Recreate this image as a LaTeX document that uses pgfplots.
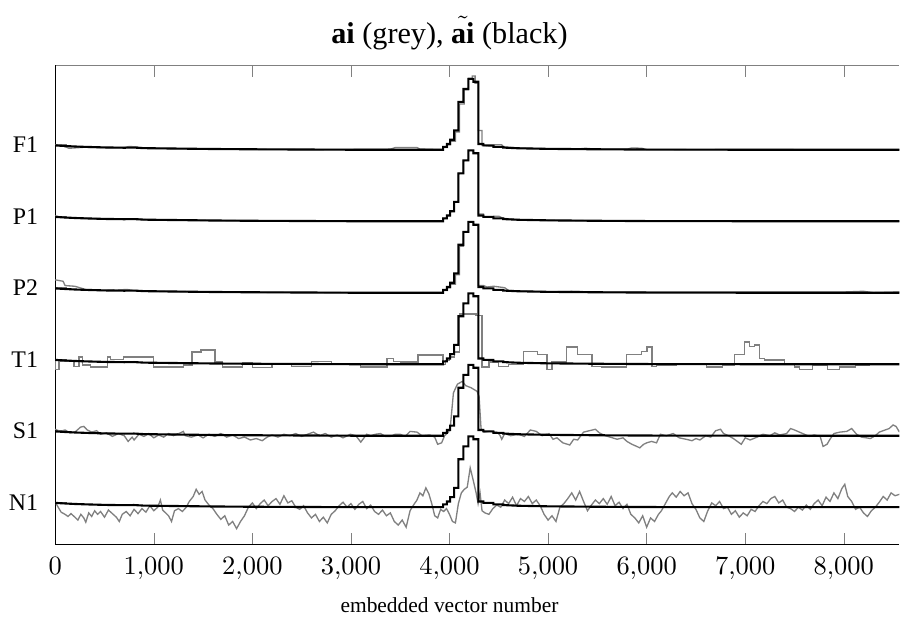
\documentclass[border=0pt]{standalone}
\usepackage{fontspec}
\setmainfont{Liberation Serif}
\usepackage{pgfplots}
\usepackage{pgfplotstable}
\pgfplotsset{compat=1.18}

% black (smoothed) reference curve, relative to each baseline
\pgfplotstableread{
x y
0 0.06
100 0.052
200 0.045
300 0.04
500 0.032
700 0.028
800 0.03
900 0.022
1000 0.02
1300 0.015
1600 0.01
2000 0.006
2500 0.003
3000 0.0
3500 0.0
3935 0.0
3935 0.04
3973 0.04
3973 0.08
4006 0.08
4006 0.14
4047 0.14
4047 0.27
4090 0.27
4090 0.67
4141 0.67
4141 0.85
4192 0.85
4192 0.99
4242 0.99
4242 0.95
4293 0.95
4293 0.08
4344 0.08
4344 0.06
4445 0.06
4445 0.04
4545 0.04
4545 0.03
4700 0.02
5000 0.012
5500 0.006
6000 0.002
7000 0.0
8000 0.0
8565 0.0
}\blackbase

\pgfplotstableread{
x y
0 0.07
60 0.065
140 0.02
300 0.035
500 0.028
700 0.03
750 0.045
820 0.04
900 0.022
1200 0.015
1500 0.01
2000 0.006
2500 0.0
3000 0.004
3400 0.008
3450 0.03
3670 0.03
3700 0.01
3935 0.0
3935 0.03
3980 0.03
3980 0.07
4010 0.07
4010 0.12
4060 0.12
4060 0.25
4100 0.25
4100 0.64
4150 0.64
4150 0.84
4192 0.84
4192 1.0
4230 1.0
4230 1.03
4260 1.03
4260 0.93
4293 0.93
4293 0.27
4330 0.27
4330 0.06
4400 0.05
4450 0.05
4460 0.07
4530 0.07
4545 0.04
4700 0.025
5000 0.012
5300 0.01
5380 0.02
5450 0.012
5800 0.008
5850 0.025
5950 0.02
6000 0.004
6500 0.0
7000 0.002
7800 0.0
8565 0.0
}\greyFone

\pgfplotstableread{
x y
0 0.075
50 0.06
100 0.05
200 0.045
300 0.04
500 0.033
700 0.028
800 0.032
900 0.022
1000 0.02
1300 0.015
1600 0.01
2000 0.006
2500 0.003
3000 0.0
3935 0.0
3935 0.04
3973 0.04
3973 0.08
4006 0.08
4006 0.14
4047 0.14
4047 0.27
4090 0.27
4090 0.67
4141 0.67
4141 0.85
4192 0.85
4192 0.99
4242 0.99
4242 0.95
4293 0.95
4293 0.1
4344 0.1
4344 0.06
4440 0.06
4450 0.07
4500 0.07
4545 0.04
4700 0.02
5000 0.012
5500 0.006
6000 0.002
7000 0.0
8565 0.0
}\greyPone

\pgfplotstableread{
x y
0 0.18
80 0.16
100 0.1
200 0.09
320 0.04
500 0.03
730 0.045
800 0.03
1000 0.02
1300 0.015
1600 0.01
2000 0.006
2500 0.003
3000 0.0
3935 0.0
3935 0.03
3980 0.03
3980 0.07
4010 0.07
4010 0.12
4060 0.12
4060 0.25
4100 0.25
4100 0.65
4141 0.65
4141 0.85
4192 0.85
4192 0.99
4242 0.99
4242 0.95
4293 0.95
4293 0.1
4344 0.1
4380 0.08
4450 0.09
4560 0.07
4600 0.03
5000 0.012
5300 0.02
5400 0.01
8000 0.01
8200 0.02
8300 0.0
8565 0.01
}\greyPtwo

\pgfplotstableread{
x y
0 0.07
5 -0.07
38 0.04
190 -0.03
240 0.1
274 -0.01
359 -0.04
527 0.1
561 0.07
696 0.1
1000 -0.04
1304 -0.01
1389 0.17
1480 0.2
1620 0.03
1700 -0.04
1900 0.02
2000 -0.05
2200 0.01
2400 -0.03
2600 0.04
2800 0.0
3095 -0.04
3367 0.08
3435 0.04
3500 0.03
3682 0.13
3935 0.0
3960 0.05
4000 0.1
4050 0.17
4100 0.7
4270 0.68
4330 -0.04
4400 0.03
4500 -0.03
4600 0.0
4750 0.18
4890 0.14
4990 -0.07
5040 0.03
5190 0.24
5300 0.14
5445 -0.03
5546 -0.04
5799 0.14
5951 0.18
6002 0.24
6053 -0.03
6103 -0.01
6306 0.01
6610 -0.04
6772 -0.01
6893 0.14
6995 0.31
7046 0.25
7097 0.27
7147 0.08
7198 0.06
7400 0.01
7502 -0.04
7552 -0.07
7684 -0.01
7836 -0.07
7957 -0.04
8119 -0.01
8261 0.01
8565 0.01
}\greyTone

\pgfplotstableread{
x y
0 0.09
50 0.06
100 0.08
150 0.04
200 0.05
257 0.12
290 0.13
325 0.08
370 0.05
420 0.07
460 0.02
520 0.04
580 -0.01
640 0.03
700 0.0
740 -0.08
780 -0.02
800 -0.06
850 0.02
900 -0.01
950 0.03
1000 -0.03
1050 0.01
1100 -0.02
1150 0.03
1200 0.0
1270 0.04
1300 0.06
1320 0.0
1380 -0.02
1450 0.01
1500 -0.03
1560 0.02
1620 -0.01
1680 0.03
1740 -0.02
1800 0.01
1860 -0.04
1920 -0.02
1980 -0.06
2040 -0.04
2100 -0.07
2150 -0.02
2200 0.01
2260 -0.02
2320 0.02
2380 0.0
2440 0.03
2500 -0.01
2560 0.02
2620 0.05
2680 0.0
2740 0.03
2800 -0.02
2860 0.01
2920 -0.03
2994 0.02
3050 0.0
3100 -0.09
3160 0.02
3200 0.0
3250 0.02
3300 0.03
3350 -0.01
3400 -0.01
3450 0.02
3500 0.02
3550 -0.01
3600 0.06
3670 0.05
3720 0.0
3800 0.01
3850 -0.02
3880 -0.12
3920 -0.1
3950 0.0
3990 0.05
4010 0.15
4040 0.6
4080 0.72
4130 0.76
4165 0.7
4220 0.67
4280 0.62
4300 0.55
4320 0.1
4350 0.05
4410 0.06
4480 0.05
4510 0.01
4530 -0.05
4560 0.03
4620 0.0
4700 0.02
4760 -0.01
4820 0.08
4880 0.06
4940 0.0
5010 0.03
5050 -0.05
5090 -0.03
5150 -0.1
5220 -0.13
5260 -0.05
5300 -0.06
5360 0.05
5420 0.07
5480 0.09
5520 0.04
5580 0.0
5630 -0.02
5700 -0.05
5760 -0.03
5800 -0.08
5850 -0.12
5900 -0.15
5930 -0.17
5970 -0.12
6000 -0.1
6050 -0.08
6100 -0.1
6140 0.02
6200 0.0
6270 0.03
6330 -0.03
6400 -0.05
6460 -0.07
6500 -0.04
6540 -0.06
6600 0.0
6650 -0.02
6700 0.07
6750 0.09
6780 0.03
6830 0.0
6880 -0.04
6920 -0.08
6960 -0.12
7000 -0.03
7050 -0.06
7120 -0.02
7180 0.02
7250 0.0
7300 0.04
7350 0.01
7420 0.03
7460 0.1
7500 0.08
7550 0.05
7600 0.02
7650 -0.01
7700 0.01
7760 -0.01
7790 -0.15
7830 -0.12
7860 -0.05
7900 0.03
7960 0.05
8030 0.06
8080 0.1
8130 0.02
8180 -0.02
8230 -0.03
8270 -0.04
8320 0.0
8360 0.05
8420 0.08
8460 0.1
8500 0.15
8530 0.13
8565 0.05
}\greySone

\pgfplotstableread{
x y
0 0.07
30 0.0
60 -0.07
100 -0.1
130 -0.13
160 -0.09
200 -0.14
230 -0.18
260 -0.1
290 -0.15
310 -0.21
340 -0.08
370 -0.13
400 -0.05
430 -0.1
460 -0.06
500 -0.14
540 -0.04
580 -0.09
620 -0.14
650 -0.2
680 -0.1
720 -0.06
760 -0.12
800 -0.03
840 -0.09
880 -0.02
920 -0.07
960 0.02
1000 -0.05
1040 0.0
1067 0.1
1090 -0.04
1120 -0.08
1150 -0.12
1180 -0.2
1210 -0.05
1250 -0.02
1290 -0.06
1330 0.0
1360 0.08
1400 0.15
1430 0.25
1460 0.18
1490 0.22
1520 0.1
1560 0.03
1600 -0.02
1640 -0.1
1680 -0.17
1720 -0.12
1760 -0.25
1800 -0.2
1840 -0.3
1880 -0.2
1920 -0.12
1960 0.0
2000 0.06
2040 -0.02
2080 0.05
2120 0.1
2160 0.02
2200 0.08
2240 0.12
2280 0.04
2320 0.16
2360 0.06
2400 0.09
2440 0.0
2480 -0.03
2520 0.02
2560 -0.08
2600 -0.15
2640 -0.1
2680 -0.2
2720 -0.14
2760 -0.22
2800 -0.1
2840 -0.05
2880 0.02
2920 0.07
2960 0.0
3000 0.05
3040 -0.03
3080 0.04
3120 0.08
3160 -0.02
3200 0.03
3240 -0.06
3280 -0.1
3320 -0.04
3360 -0.12
3400 -0.08
3440 -0.2
3480 -0.25
3520 -0.18
3560 -0.28
3600 -0.05
3630 0.02
3670 0.1
3700 0.2
3730 0.16
3760 0.27
3790 0.19
3820 0.05
3850 -0.12
3880 -0.15
3910 -0.03
3940 -0.06
3970 -0.02
4000 -0.1
4030 -0.2
4060 -0.22
4090 0.05
4120 0.2
4150 0.25
4180 0.28
4210 0.55
4240 0.38
4270 0.2
4290 0.05
4310 0.2
4330 -0.05
4360 -0.08
4400 -0.1
4440 -0.02
4480 0.03
4520 0.0
4560 0.1
4600 0.05
4640 0.14
4680 0.02
4720 0.12
4760 0.08
4800 0.15
4840 0.05
4880 0.1
4920 0.02
4960 -0.1
5000 -0.18
5040 -0.12
5080 -0.2
5120 0.0
5160 0.05
5200 0.12
5240 0.2
5280 0.1
5320 0.22
5360 0.08
5400 -0.05
5440 0.03
5480 0.1
5520 0.05
5560 0.12
5600 0.04
5640 0.15
5680 0.02
5720 0.07
5760 -0.02
5800 0.04
5840 -0.1
5880 -0.15
5920 -0.22
5960 -0.12
6000 -0.28
6040 -0.15
6080 -0.2
6120 -0.1
6150 -0.05
6190 0.05
6230 0.15
6260 0.2
6300 0.14
6340 0.22
6380 0.16
6420 0.2
6460 0.05
6500 -0.03
6540 -0.15
6580 -0.2
6620 -0.05
6660 0.06
6700 0.02
6740 0.08
6780 -0.02
6820 0.0
6860 -0.1
6900 -0.05
6940 -0.14
6980 -0.08
7020 -0.12
7060 -0.03
7100 -0.06
7140 0.02
7180 0.08
7220 0.05
7260 0.12
7300 0.15
7340 0.06
7380 0.1
7420 0.0
7460 -0.02
7500 -0.06
7540 0.0
7580 -0.04
7620 0.03
7660 -0.03
7700 0.05
7740 0.1
7780 0.02
7820 0.14
7860 0.08
7900 0.2
7940 0.12
7980 0.26
8010 0.32
8040 0.15
8080 0.08
8120 -0.03
8160 0.0
8200 -0.08
8240 -0.13
8280 -0.05
8320 0.0
8360 0.07
8400 0.15
8440 0.1
8480 0.2
8520 0.16
8565 0.18
}\greyNone

\begin{document}
\begin{tikzpicture}
\begin{axis}[
  scale only axis, width=319pt, height=181pt,
  xmin=0, xmax=8565, ymin=-0.52, ymax=6.18,
  axis x line*=top, axis y line*=right,
  x axis line style={gray}, y axis line style={draw=none},
  xtick={0,1000,...,8000}, xticklabels={},
  ytick=\empty,
  tick align=inside, tick style={gray},
]
\end{axis}
\begin{axis}[
  scale only axis, width=319pt, height=181pt,
  xmin=0, xmax=8565, ymin=-0.52, ymax=6.18,
  axis x line*=bottom, axis y line*=left,
  xtick={0,1000,...,8000}, scaled x ticks=false,
  xticklabel style={yshift=-1.5pt},
  ytick={0.07,1.07,2.07,3.07,4.07,5.07},
  yticklabels={N1,S1,T1,P2,P1,F1},
  yticklabel style={font=\fontsize{9}{11}\selectfont, xshift=-3pt},
  tick align=inside, tick style={gray},
  xlabel={embedded vector number},
  xlabel style={at={(ticklabel cs:0.467)}, font=\fontsize{8.1}{9.7}\selectfont, text depth=1.2pt},
  title={\textbf{ai} (grey), $\tilde{\textbf{ai}}$ (black)},
  title style={at={(0.467,1)}, anchor=base, yshift=2.2pt, inner sep=0pt,
    text height=16.5pt, font=\fontsize{11.4}{13.7}\selectfont},
]
\addplot[gray, line width=0.5pt] table[y expr=\thisrow{y}+5] {\greyFone};
\addplot[gray, line width=0.5pt] table[y expr=\thisrow{y}+4] {\greyPone};
\addplot[gray, line width=0.5pt] table[y expr=\thisrow{y}+3] {\greyPtwo};
\addplot[gray, line width=0.5pt, const plot] table[y expr=\thisrow{y}+2] {\greyTone};
\addplot[gray, line width=0.5pt] table[y expr=\thisrow{y}+1] {\greySone};
\addplot[gray, line width=0.5pt] table[y expr=\thisrow{y}] {\greyNone};
\addplot[black, line width=0.8pt] table[y expr=\thisrow{y}+5] {\blackbase};
\addplot[black, line width=0.8pt] table[y expr=\thisrow{y}+4] {\blackbase};
\addplot[black, line width=0.8pt] table[y expr=\thisrow{y}+3] {\blackbase};
\addplot[black, line width=0.8pt] table[y expr=\thisrow{y}+2] {\blackbase};
\addplot[black, line width=0.8pt] table[y expr=\thisrow{y}+1] {\blackbase};
\addplot[black, line width=0.8pt] table[y expr=\thisrow{y}] {\blackbase};
\end{axis}
\end{tikzpicture}
\end{document}
